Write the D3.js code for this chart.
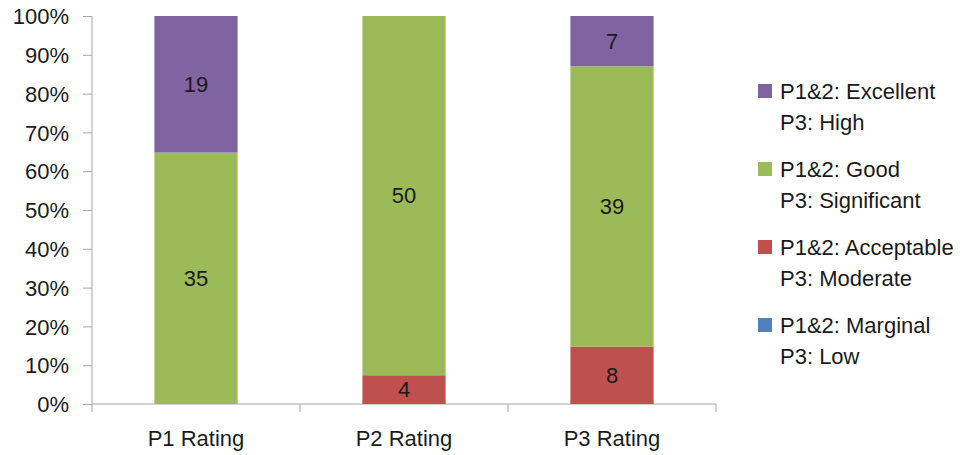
<!DOCTYPE html>
<html lang="en">
<head>
<meta charset="utf-8">
<title>Ratings</title>
<script src="https://d3js.org/d3.v7.min.js"></script>
<style>
  body { margin: 0; background: #fff; }
  text { font-family: "Liberation Sans", Arial, sans-serif; fill: #1a1a1a; font-size: 22px; }
  .axis path, .axis line { stroke: #a6a6a6; }
</style>
</head>
<body>
<script>
// Data
var categories = ["P1 Rating", "P2 Rating", "P3 Rating"];
var seriesNames = ["marginal", "acceptable", "good", "excellent"];
var marginal   = [0, 0, 0];
var acceptable = [0, 4, 8];
var good       = [35, 50, 39];
var excellent  = [19, 0, 7];
var legendLabels = [
  ["P1&2: Excellent", "P3: High"],
  ["P1&2: Good", "P3: Significant"],
  ["P1&2: Acceptable", "P3: Moderate"],
  ["P1&2: Marginal", "P3: Low"]
];
var yTicks = [0, 0.1, 0.2, 0.3, 0.4, 0.5, 0.6, 0.7, 0.8, 0.9, 1];

var colors = {
  marginal: "#4F81BD",
  acceptable: "#C0504D",
  good: "#9BBB59",
  excellent: "#8064A2"
};

var w = 975, h = 455;
var plotLeft = 92, plotRight = 716, plotTop = 16, plotBottom = 404;

var rows = categories.map(function(c, i) {
  return { cat: c, marginal: marginal[i], acceptable: acceptable[i], good: good[i], excellent: excellent[i] };
});

var stack = d3.stack().keys(seriesNames).offset(d3.stackOffsetExpand);
var layers = stack(rows);

var x = d3.scaleBand().domain(categories).range([plotLeft, plotRight]).paddingInner(0.6).paddingOuter(0.3);
var y = d3.scaleLinear().domain([0, 1]).range([plotBottom, plotTop]);

var svg = d3.select("body").append("svg")
  .attr("width", w)
  .attr("height", h);

// y axis
var yAxis = d3.axisLeft(y).tickValues(yTicks).tickFormat(d3.format(".0%")).tickSize(9).tickPadding(14);
var gy = svg.append("g").attr("class", "axis")
  .attr("transform", "translate(" + plotLeft + ",0)")
  .call(yAxis);
gy.select(".domain").attr("d", "M0," + plotTop + "V" + plotBottom);
gy.selectAll("text").attr("fill", null).attr("dy", "0.35em");
gy.attr("font-size", null).attr("font-family", null);

// x axis with boundary ticks
var gx = svg.append("g").attr("class", "axis")
  .attr("transform", "translate(0," + plotBottom + ")");
gx.append("line").attr("x1", plotLeft).attr("x2", plotRight).attr("stroke", "#a6a6a6");
var bounds = d3.range(categories.length + 1).map(function(i) {
  return plotLeft + i * (plotRight - plotLeft) / categories.length;
});
gx.selectAll(".bt").data(bounds).enter().append("line")
  .attr("x1", function(d) { return d; }).attr("x2", function(d) { return d; })
  .attr("y1", 0).attr("y2", 8).attr("stroke", "#a6a6a6");
gx.selectAll(".cl").data(categories).enter().append("text")
  .attr("x", function(d) { return x(d) + x.bandwidth() / 2; })
  .attr("y", 42)
  .attr("text-anchor", "middle")
  .text(function(d) { return d; });

// bars
var groups = svg.selectAll(".layer").data(layers).enter().append("g")
  .attr("fill", function(d) { return colors[d.key]; });

groups.selectAll("rect").data(function(d) { return d; }).enter().append("rect")
  .attr("x", function(d) { return x(d.data.cat); })
  .attr("width", x.bandwidth())
  .attr("y", function(d) { return y(d[1]); })
  .attr("height", function(d) { return y(d[0]) - y(d[1]); });

// value labels
groups.each(function(layer) {
  d3.select(this).selectAll("text").data(layer.filter(function(d) { return d.data[layer.key] > 0; }))
    .enter().append("text")
    .attr("x", function(d) { return x(d.data.cat) + x.bandwidth() / 2; })
    .attr("y", function(d) { return y((d[0] + d[1]) / 2); })
    .attr("dy", "0.35em")
    .attr("text-anchor", "middle")
    .text(function(d) { return d.data[layer.key]; });
});

// legend
var legendKeys = ["excellent", "good", "acceptable", "marginal"];
var lg = svg.selectAll(".legend").data(legendKeys).enter().append("g")
  .attr("transform", function(d, i) { return "translate(758," + (84 + i * 78) + ")"; });
lg.append("rect").attr("width", 14).attr("height", 14)
  .attr("fill", function(d) { return colors[d]; });
lg.append("text").attr("x", 22).attr("y", 15)
  .text(function(d, i) { return legendLabels[i][0]; });
lg.append("text").attr("x", 22).attr("y", 46)
  .text(function(d, i) { return legendLabels[i][1]; });
</script>
</body>
</html>
